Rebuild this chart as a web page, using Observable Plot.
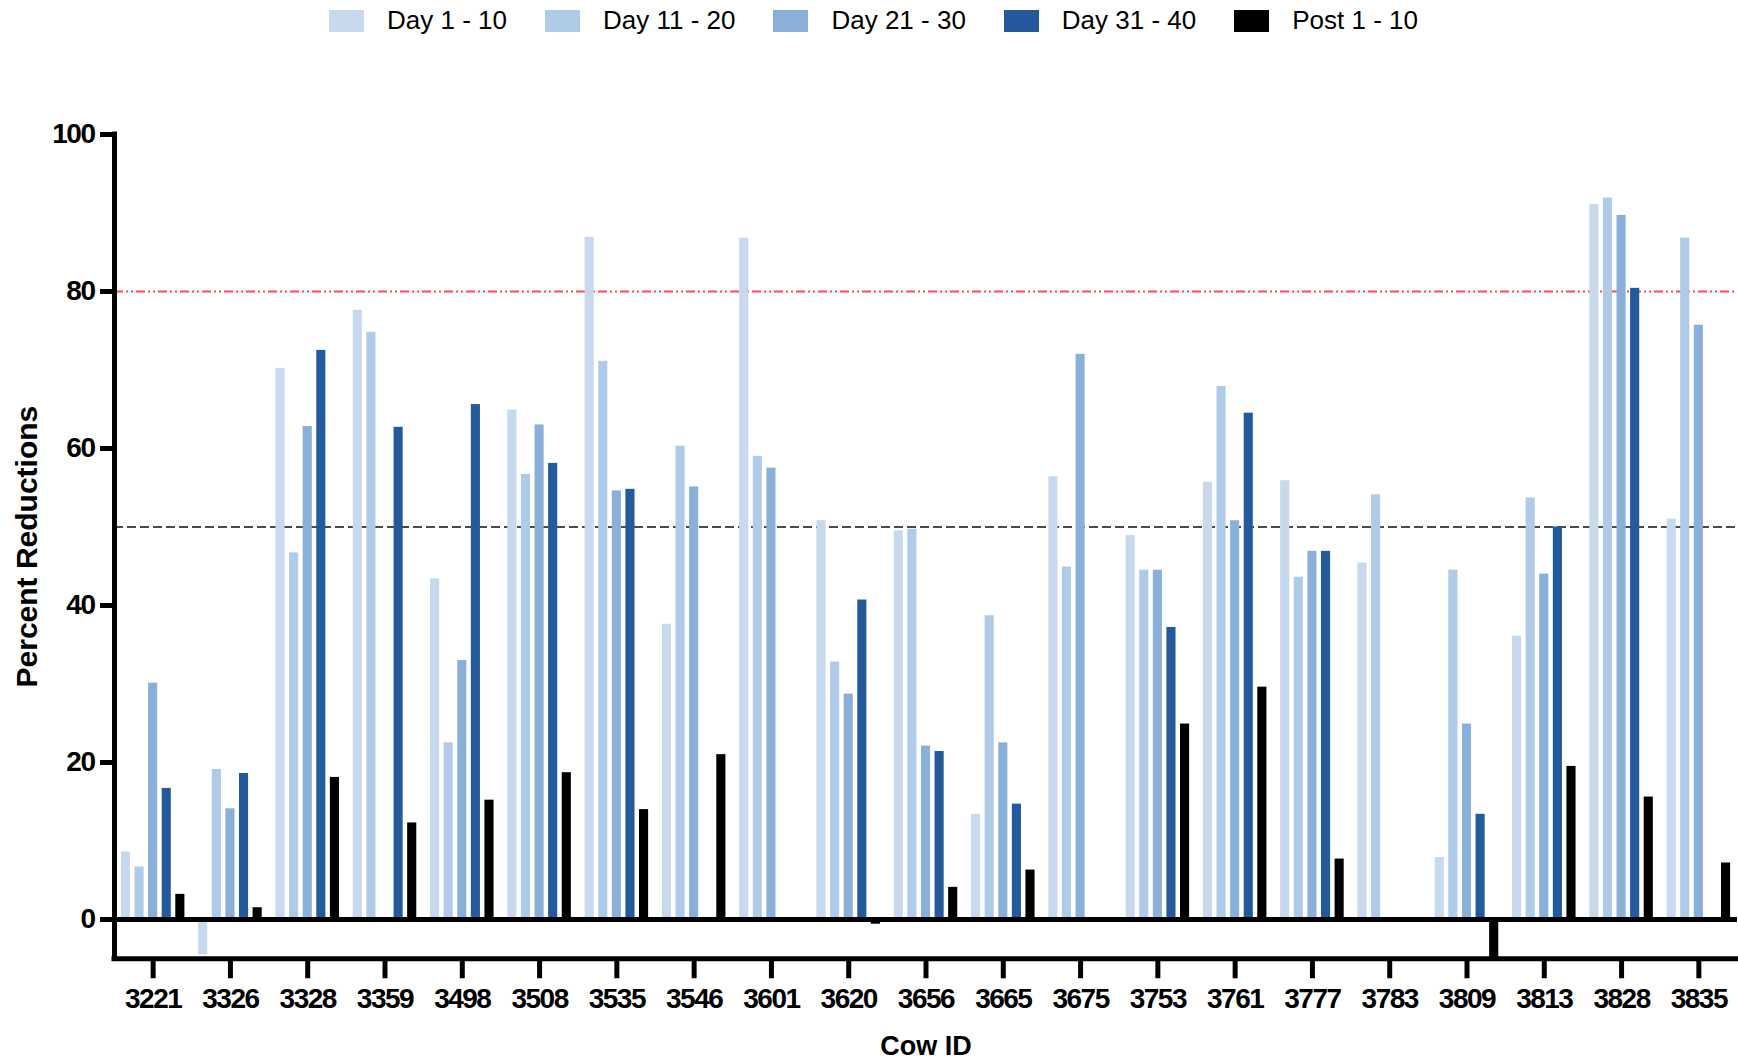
<!DOCTYPE html>
<html>
<head>
<meta charset="utf-8">
<script src="https://cdn.jsdelivr.net/npm/d3@7"></script>
<script src="https://cdn.jsdelivr.net/npm/@observablehq/plot@0.6"></script>
<style>
  html, body { margin: 0; padding: 0; background: #fff; }
  #chart { position: relative; width: 1738px; height: 1062px; }
  #legend { position: absolute; left: 329px; top: 4px; }
  #legend div { font-family: "Liberation Sans", Arial, sans-serif; font-size: 26px; color: #000; margin: 0; }
  #legend span { margin-right: 38px !important; }
  #legend svg { margin-right: 23px !important; }
  g[aria-label="y-axis label"] text { font-family: "Liberation Sans", Arial, sans-serif; font-weight: bold; font-size: 30px; }
  g[aria-label="x-axis label"] text { font-family: "Liberation Sans", Arial, sans-serif; font-weight: bold; font-size: 27px; }
  g[aria-label="x-axis tick label"] text, g[aria-label="y-axis tick label"] text { letter-spacing: -1.5px; }
</style>
</head>
<body>
<div id="chart"><div id="legend"></div></div>
<script>
// Cow IDs along the x axis
const cows = ["3221", "3326", "3328", "3359", "3498", "3508", "3535", "3546", "3601", "3620",
              "3656", "3665", "3675", "3753", "3761", "3777", "3783", "3809", "3813", "3828", "3835"];

// Sampling periods and their colours
const seriesNames = ["Day 1 - 10", "Day 11 - 20", "Day 21 - 30", "Day 31 - 40", "Post 1 - 10"];
const seriesColors = ["#c8d8ed", "#afcbe7", "#8aafd8", "#245a9b", "#000000"];

// Percent reductions per cow (null = no bar)
const day1to10  = [8.6, -4.5, 70.2, 77.6, 43.4, 64.9, 86.9, 37.6, 86.8, 50.8, 49.5, 13.4, 56.4, 48.9, 55.7, 55.9, 45.4, 7.9, 36.1, 91.1, 51.0];
const day11to20 = [6.7, 19.1, 46.7, 74.8, 22.5, 56.7, 71.1, 60.3, 59.0, 32.8, 49.7, 38.7, 44.9, 44.5, 67.9, 43.6, 54.1, 44.5, 53.7, 91.9, 86.8];
const day21to30 = [30.1, 14.1, 62.8, null, 33.0, 63.0, 54.6, 55.1, 57.5, 28.7, 22.1, 22.5, 72.0, 44.5, 50.8, 46.9, null, 24.9, 44.0, 89.7, 75.7];
const day31to40 = [16.7, 18.6, 72.5, 62.7, 65.6, 58.1, 54.8, null, null, 40.7, 21.4, 14.7, null, 37.2, 64.5, 46.9, null, 13.4, 50.0, 80.4, null];
const post1to10 = [3.2, 1.5, 18.1, 12.3, 15.2, 18.7, 14.0, 21.0, null, -0.6, 4.1, 6.3, null, 24.9, 29.6, 7.7, null, -5.0, 19.5, 15.6, 7.2];

// Axis ticks and reference levels
const yTicks = [0, 20, 40, 60, 80, 100];
const yDomain = [-5, 100];
const targetLevel = 80;
const halfLevel = 50;

const seriesValues = [day1to10, day11to20, day21to30, day31to40, post1to10];
const rows = [];
seriesValues.forEach((values, j) => {
  values.forEach((v, i) => {
    if (v != null) rows.push({cow: cows[i], i, series: seriesNames[j], j, value: v});
  });
});

// grouped layout: five bars side by side around each cow's tick
const barStep = 0.176;
const barWidth = 0.118;
const barCenter = d => d.i + (d.j - (seriesNames.length - 1) / 2) * barStep;

const tickFont = '"Liberation Sans Narrow", "Arial Narrow", "Liberation Sans", Arial, sans-serif';

const chart = Plot.plot({
  width: 1738,
  height: 1062,
  marginLeft: 114,
  marginRight: 1,
  marginTop: 134,
  marginBottom: 103.75,
  style: {background: "#fff", color: "#000", overflow: "visible"},
  x: {domain: [-0.5, cows.length - 0.5]},
  y: {domain: yDomain},
  color: {domain: seriesNames, range: seriesColors},
  marks: [
    Plot.ruleY([targetLevel], {stroke: "#ff4b4b", strokeWidth: 2, strokeDasharray: "9,3,2,3,2,3"}),
    Plot.ruleY([halfLevel], {stroke: "#4a4a4a", strokeWidth: 2, strokeDasharray: "9,4"}),
    Plot.rect(rows, {
      x1: d => barCenter(d) - barWidth / 2,
      x2: d => barCenter(d) + barWidth / 2,
      y1: 0,
      y2: "value",
      fill: "series"
    }),
    Plot.ruleY([0], {stroke: "#000", strokeWidth: 5}),
    Plot.ruleY([yDomain[0]], {stroke: "#000", strokeWidth: 5, strokeLinecap: "square"}),
    Plot.ruleX([-0.5], {y1: yDomain[0], y2: yDomain[1], stroke: "#000", strokeWidth: 5, strokeLinecap: "square"}),
    Plot.axisY({
      ticks: yTicks,
      tickSize: 14,
      tickPadding: 6,
      strokeWidth: 5,
      fontSize: 28,
      fontWeight: "bold",
      fontFamily: tickFont,
      label: "Percent Reductions",
      labelArrow: "none",
      labelAnchor: "center",
      labelOffset: 99
    }),
    Plot.axisX({
      ticks: cows.map((c, i) => i),
      tickFormat: i => cows[i],
      tickSize: 20,
      tickPadding: 9,
      strokeWidth: 5,
      fontSize: 28,
      fontWeight: "bold",
      fontFamily: tickFont,
      label: "Cow ID",
      labelArrow: "none",
      labelAnchor: "center",
      labelOffset: 96
    })
  ]
});

const legend = Plot.legend({
  color: {domain: seriesNames, range: seriesColors},
  legend: "swatches",
  swatchWidth: 35,
  swatchHeight: 22
});

const container = document.getElementById("chart");
container.insertBefore(chart, container.firstChild);
document.getElementById("legend").appendChild(legend);
</script>
</body>
</html>
